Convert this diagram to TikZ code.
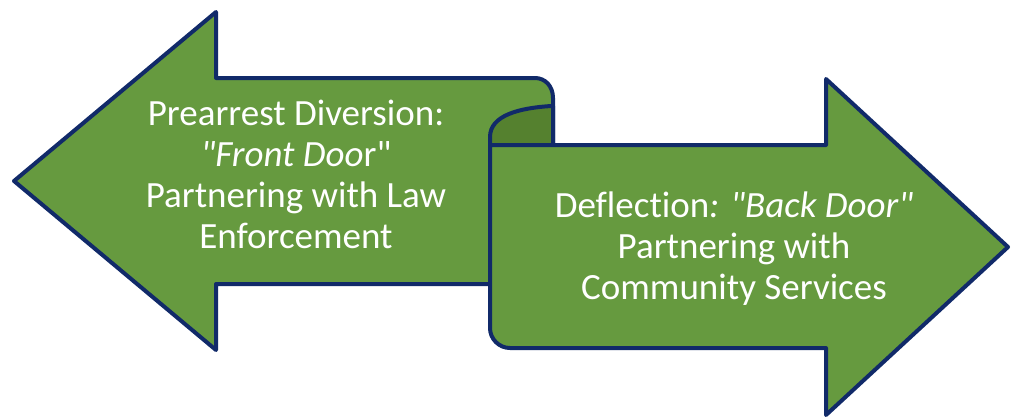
\documentclass[tikz,border=0pt]{standalone}
\usepackage{fontspec}
\setmainfont[Ligatures={NoCommon}]{Carlito}
\definecolor{arrowgreen}{HTML}{669A3F}
\definecolor{rolldark}{HTML}{55812F}
\definecolor{edgenavy}{HTML}{112A69}
\begin{document}
\begin{tikzpicture}[x=1pt,y=-1pt,
  shapebox/.style={fill=arrowgreen,draw=edgenavy,line width=4pt,line join=round},
  innerroll/.style={fill=rolldark,draw=edgenavy,line width=4pt,line join=round},
  labeltext/.style={text=white,align=center,inner sep=0pt,font=\fontsize{37pt}{41pt}\selectfont}]
\useasboundingbox (0,0) rectangle (1012,418);
% left arrow
\path[shapebox] (216,12) -- (14,181) -- (216,350) -- (216,284) -- (490,284) -- (490,145) -- (553,145) -- (553,98)
  .. controls (553,86) and (545,78) .. (535,78) -- (216,78) -- cycle;
% inside of the roll
\path[innerroll] (490,137) .. controls (490,115) and (520,108) .. (551,106) -- (553,106) -- (553,145) -- (490,145) -- cycle;
% right arrow
\path[shapebox] (553,145) -- (826,145) -- (826,79) -- (1008,247) -- (826,415) -- (826,348) -- (510,348)
  .. controls (499,348) and (490,339) .. (490,328) -- (490,145) -- cycle;
\node[labeltext] (front) at (296,174) {Prearrest Diversion:\\\textit{\textquotedbl Front Doo}r\textquotedbl\\Partnering with Law\\Enforcement};
\node[labeltext] (back) at (734,249) {Deflection\textit{: \textquotedbl Back Door\textquotedbl}\\Partnering with\\Community Services};
\end{tikzpicture}
\end{document}
